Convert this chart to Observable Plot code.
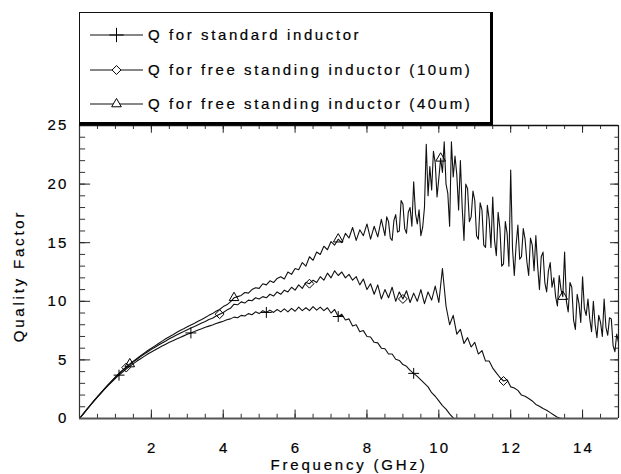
<!DOCTYPE html>
<html>
<head>
<meta charset="utf-8">
<script src="https://cdn.jsdelivr.net/npm/d3@7"></script>
<script src="https://cdn.jsdelivr.net/npm/@observablehq/plot@0.6"></script>
<style>
  html, body { margin: 0; padding: 0; background: #fff; }
  #wrap { position: relative; width: 621px; height: 474px; font-family: "Liberation Sans", Arial, Helvetica, sans-serif; }
  #legend { position: absolute; left: 79px; top: 12px; width: 410px; height: 109px;
            border-left: 1px solid #111; border-top: 1.5px solid #111;
            border-right: 3px solid #000; border-bottom: 3px solid #000; background: #fff; }
  .row { position: absolute; left: 0; height: 20px; }
  .row svg { position: absolute; left: 10px; top: 0; }
  .row span { position: absolute; left: 68px; top: 0; line-height: 20px; font-size: 15px; letter-spacing: 2.6px;
              white-space: nowrap; color: #000; -webkit-text-stroke: 0.2px #000; }
  #chart svg text { fill: #000; stroke: #000; stroke-width: 0.2px; }
  #chart [aria-label="x-axis tick label"] text, #chart [aria-label="y-axis tick label"] text { letter-spacing: 2.2px; }
  #chart .axtitle text { letter-spacing: 2.8px; }
</style>
</head>
<body>
<div id="wrap">
  <div id="chart"></div>
  <div id="legend"></div>
</div>
<script>
// ---- data ----
const freqStep = 0.1;      // GHz between coarse samples, first sample at 0 GHz
const fineStart = 8.5;     // GHz where the finely sampled 40um trace continues
const fineStep = 0.05;

const qStandard = [
  0, 0.38, 0.75, 1.12, 1.48, 1.83, 2.17, 2.5, 2.82, 3.12,
  3.42, 3.7, 3.97, 4.22, 4.46, 4.68, 4.9, 5.1, 5.3, 5.5,
  5.68, 5.85, 6.02, 6.18, 6.34, 6.5, 6.64, 6.78, 6.92, 7.05,
  7.18, 7.3, 7.42, 7.55, 7.66, 7.78, 7.88, 7.98, 8.1, 8.2,
  8.3, 8.42, 8.5, 8.65, 8.6, 8.8, 8.75, 8.95, 8.85, 9.1,
  8.95, 9.2, 9.05, 9.25, 9.05, 9.3, 9.1, 9.35, 9.1, 9.4,
  9.15, 9.5, 9.2, 9.45, 9.2, 9.55, 9.25, 9.5, 9.2, 9.45,
  9.0, 9.3, 8.7, 8.9, 8.4, 8.5, 7.9, 8.0, 7.4, 7.5,
  7.0, 6.95, 6.5, 6.45, 6.0, 5.95, 5.5, 5.5, 5.05, 4.95,
  4.6, 4.45, 4.1, 3.85, 3.6, 3.3, 3.0, 2.7, 2.2, 1.9,
  1.5, 1.1, 0.8, 0.4, 0.05
];

const qFree10 = [
  0, 0.38, 0.76, 1.13, 1.5, 1.85, 2.2, 2.55, 2.88, 3.2,
  3.52, 3.82, 4.1, 4.35, 4.6, 4.84, 5.06, 5.28, 5.5, 5.7,
  5.9, 6.08, 6.27, 6.45, 6.62, 6.8, 6.96, 7.12, 7.28, 7.42,
  7.57, 7.72, 7.85, 8.0, 8.15, 8.28, 8.45, 8.55, 8.75, 8.9,
  9.05, 9.25, 9.4, 9.75, 9.7, 9.95, 9.85, 10.1, 10.05, 10.3,
  10.2, 10.4, 10.3, 10.6, 10.45, 10.8, 10.6, 10.95, 10.8, 11.2,
  10.95, 11.4, 11.1, 11.6, 11.5, 11.8, 11.6, 12.1, 11.8, 12.4,
  12.0, 12.6, 12.2, 12.5, 12.0, 12.3, 11.8, 12.1, 11.4, 11.9,
  11.0, 11.5, 10.6, 11.4, 10.2, 11.0, 10.3, 11.2, 10.0, 10.8,
  10.2, 10.9, 9.9, 10.7, 10.0, 11.0, 9.8, 10.8, 10.1, 11.3,
  9.9, 12.8, 9.6, 8.0, 8.8, 7.2, 7.6, 6.4, 6.9, 6.1,
  6.5, 5.5, 5.8, 4.9, 4.9, 4.3, 3.9, 3.5, 3.2, 3.3,
  2.7, 2.6, 2.4, 2.0, 1.9, 1.7, 1.5, 1.2, 1.05, 0.85,
  0.7, 0.5, 0.3, 0.1, 0
];

// 40um trace: 0 – 8.4 GHz every 0.1 GHz
const qFree40 = [
  0, 0.38, 0.76, 1.13, 1.5, 1.86, 2.2, 2.55, 2.9, 3.22,
  3.55, 3.85, 4.12, 4.4, 4.65, 4.9, 5.12, 5.35, 5.58, 5.8,
  6.0, 6.2, 6.4, 6.6, 6.8, 6.98, 7.15, 7.33, 7.5, 7.65,
  7.82, 7.98, 8.12, 8.3, 8.45, 8.62, 8.8, 8.95, 9.15, 9.3,
  9.55, 9.7, 9.95, 10.3, 10.4, 10.5, 10.75, 10.7, 11.0, 11.15,
  11.1, 11.5, 11.4, 11.75, 11.6, 11.95, 12.1, 11.9, 12.5, 12.3,
  12.8, 12.7, 13.3, 13.0, 13.8, 13.5, 14.2, 14.0, 14.7, 14.4,
  15.1, 14.8, 15.3, 15.0, 15.8, 15.4, 16.3, 15.2, 16.1, 15.6,
  16.6, 15.3, 16.4, 15.5, 17.0
];
// 40um trace: 8.5 – 15 GHz every 0.05 GHz
const qFree40Fine = [
  15.6, 17.2, 16.8, 15.4, 15.2, 16.9, 17.4, 15.9, 16.0, 18.6,
  18.3, 16.2, 15.8, 17.6, 18.0, 16.4, 20.2, 17.5, 16.6, 17.8,
  15.6, 16.3, 18.0, 23.4, 19.0, 21.5, 19.5, 22.8, 21.8, 18.9,
  20.5, 22.2, 21.0, 23.6, 20.0, 19.2, 16.4, 23.6, 20.6, 22.4,
  20.8, 17.8, 22.0, 18.0, 15.2, 20.0, 19.6, 16.8, 17.2, 19.4,
  18.6, 15.6, 15.3, 18.4, 17.8, 14.8, 14.6, 18.2, 17.0, 14.6,
  18.9, 15.2, 13.9, 17.6, 16.2, 13.0, 13.2, 16.8, 15.8, 13.0,
  21.2, 14.5, 12.2, 14.8, 16.5, 13.6, 13.8, 16.2, 15.3, 13.4,
  12.2, 15.4, 14.8, 12.6, 15.6, 13.0, 11.0, 13.8, 14.2, 11.6,
  10.8, 12.6, 13.3, 11.2, 12.0, 10.4, 9.6, 12.2, 11.0, 10.4,
  14.2, 10.0, 9.1, 11.6, 11.2, 8.4, 7.6, 10.6, 9.8, 8.2,
  12.1, 9.4, 8.8, 10.2, 8.5, 7.4, 10.0, 8.0, 6.9, 8.8,
  8.2, 7.0, 10.2, 7.8, 7.1, 8.6, 8.5, 6.2, 5.7, 7.2,
  6.5
];

const seriesNames = ["Q for standard inductor", "Q for free standing inductor (10um)", "Q for free standing inductor (40um)"];
const seriesSymbols = ["plus", "diamond2", "triangle2"];
const markerFreqStandard = [1.1, 3.1, 5.2, 7.2, 9.3];
const markerFreq10 = [1.3, 3.9, 6.4, 9.0, 11.8];
const markerFreq40 = [1.4, 4.3, 7.2, 10.05, 13.45];

const xTickValues = [2, 4, 6, 8, 10, 12, 14];
const yTickValues = [0, 5, 10, 15, 20, 25];
const xMinorStep = 0.5;
const yMinorStep = 1;

const xLabel = "Frequency (GHz)";
const yLabel = "Quality Factor";

// ---- build tables ----
function rowsOf(values, start, step, name) {
  return values.map((q, i) => ({f: +(start + i * step).toFixed(3), q, name}));
}
const seriesRows = [
  rowsOf(qStandard, 0, freqStep, seriesNames[0]),
  rowsOf(qFree10, 0, freqStep, seriesNames[1]),
  rowsOf(qFree40, 0, freqStep, seriesNames[2]).concat(rowsOf(qFree40Fine, fineStart, fineStep, seriesNames[2]))
];
function markersOf(rows, freqs) {
  return freqs.map(f => rows[d3.minIndex(rows, r => Math.abs(r.f - f))]);
}
const markerFreqs = [markerFreqStandard, markerFreq10, markerFreq40];
const lineRows = seriesRows.flat();

const xMinor = d3.range(xMinorStep, 15, xMinorStep);
const yMinor = d3.range(yMinorStep, 25, yMinorStep);
const symbolR = {plus: 3.6, diamond2: 4.0, triangle2: 4.6};

const ink = "#111";

const chart = Plot.plot({
  width: 621,
  height: 474,
  marginLeft: 79,
  marginRight: 3,
  marginTop: 125,
  marginBottom: 56,
  style: {fontFamily: '"Liberation Sans", Arial, Helvetica, sans-serif', fontSize: "15px", background: "#fff", color: "#000"},
  x: {domain: [0, 15]},
  y: {domain: [0, 25]},
  marks: [
    Plot.axisX(xTickValues, {tickSize: 0, tickPadding: 24, label: null, fontSize: 15, dx: 1}),
    Plot.axisY(yTickValues, {tickSize: 0, tickPadding: 11, label: null, fontSize: 15}),
    // inward ticks
    Plot.ruleX(xMinor, {y1: 0, y2: 0.36, stroke: "#333"}),
    Plot.ruleX(xTickValues, {y1: 0, y2: 0.72, stroke: "#222"}),
    Plot.ruleX(xMinor, {y1: 25, y2: 24.66, stroke: "#333"}),
    Plot.ruleX(xTickValues, {y1: 25, y2: 24.34, stroke: "#222"}),
    Plot.ruleY(yMinor, {x1: 0, x2: 0.17, stroke: "#333"}),
    Plot.ruleY(yTickValues, {x1: 0, x2: 0.31, stroke: "#222"}),
    Plot.ruleY(yMinor, {x1: 15, x2: 14.9, stroke: "#333"}),
    Plot.ruleY(yTickValues, {x1: 15, x2: 14.78, stroke: "#222"}),
    // data
    Plot.line(lineRows, {x: "f", y: "q", z: "name", stroke: ink, strokeWidth: 1.1, strokeLinejoin: "round"}),
    ...seriesSymbols.map((s, k) =>
      Plot.dot(markersOf(seriesRows[k], markerFreqs[k]),
        {x: "f", y: "q", symbol: s, r: symbolR[s], stroke: "#000", strokeWidth: 1, fill: "none"})),
    // frame
    Plot.ruleY([0], {stroke: "#555", strokeWidth: 2}),
    Plot.ruleX([0], {stroke: "#333", strokeWidth: 1.2}),
    Plot.ruleX([15], {stroke: "#222", strokeWidth: 1.2}),
    Plot.ruleY([25], {stroke: "#111", strokeWidth: 1.3}),
    // titles
    Plot.text([xLabel], {text: d => d, frameAnchor: "bottom", dy: 51, lineAnchor: "bottom", textAnchor: "middle", fontSize: 15, className: "axtitle"}),
    Plot.text([yLabel], {text: d => d, frameAnchor: "left", rotate: -90, dx: -60, dy: 4, textAnchor: "middle", fontSize: 15, className: "axtitle"})
  ]
});
document.getElementById("chart").appendChild(chart);

// ---- legend ----
const legend = document.getElementById("legend");
const rowTops = [12, 47, 81];
const symbolTypes = {plus: d3.symbolPlus, diamond2: d3.symbolDiamond2, triangle2: d3.symbolTriangle2};
seriesNames.forEach((name, k) => {
  const row = document.createElement("div");
  row.className = "row";
  row.style.top = rowTops[k] + "px";
  row.style.width = "410px";
  const svg = d3.create("svg").attr("width", 54).attr("height", 20);
  svg.append("line").attr("x1", 0).attr("x2", 53).attr("y1", 10).attr("y2", 10).attr("stroke", ink).attr("stroke-width", 1.1);
  const s = seriesSymbols[k];
  const r = symbolR[s] * (s === "plus" ? 1.3 : 1);
  svg.append("path")
    .attr("d", d3.symbol(symbolTypes[s], Math.PI * r * r)())
    .attr("transform", "translate(26.5,10)")
    .attr("fill", s === "plus" ? "none" : "#fff").attr("stroke", "#000").attr("stroke-width", 1);
  row.appendChild(svg.node());
  const span = document.createElement("span");
  span.textContent = name;
  row.appendChild(span);
  legend.appendChild(row);
});
</script>
</body>
</html>
